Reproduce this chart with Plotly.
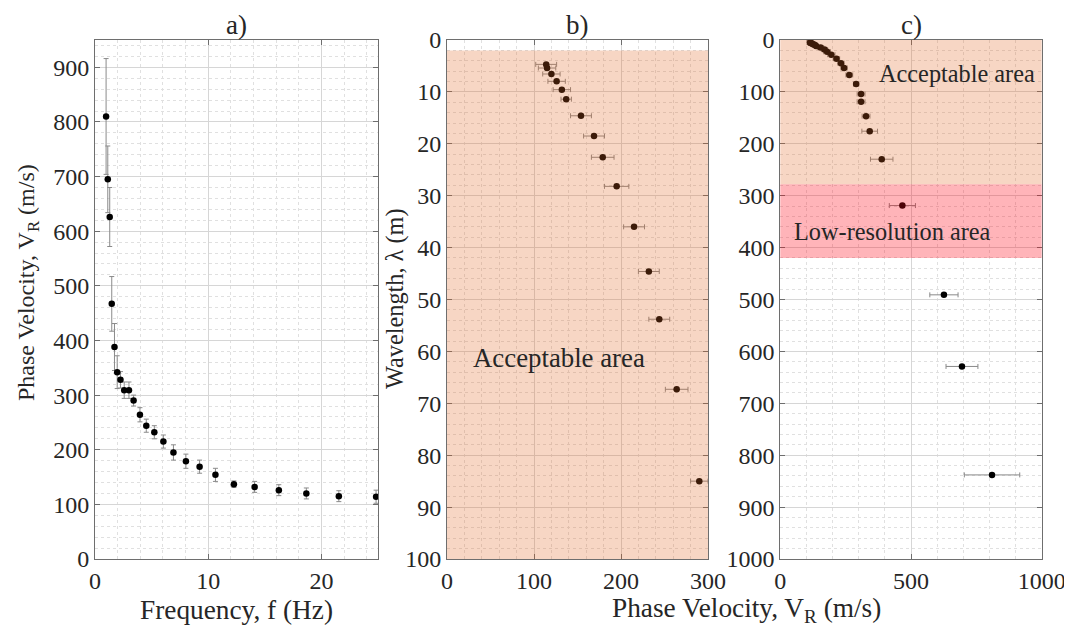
import plotly.graph_objects as go

# ---- data ----
frequency_hz = [0.98, 1.13, 1.30, 1.48, 1.72, 1.96, 2.25, 2.58, 3.00, 3.41, 3.97, 4.53,
                5.24, 6.04, 6.93, 8.03, 9.24, 10.64, 12.27, 14.10, 16.24, 18.67, 21.54, 24.83]
phase_velocity = [810, 695, 626, 467, 388, 342, 328, 309, 309, 290, 264, 244,
                  232, 215, 195, 179, 169, 154, 137, 132, 126, 120, 115, 114]
velocity_error = [106, 61, 54, 50, 43, 30, 15, 15, 15, 10, 13, 12,
                  12, 12, 14, 13, 12, 12, 6, 10, 10, 10, 10, 12]
wavelength_m = [838, 629, 491, 319, 229.7, 175.7, 146.7, 119, 104, 85, 67.3, 53.8,
                44.6, 36, 28.2, 22.6, 18.5, 14.6, 11.4, 9.57, 7.96, 6.55, 5.4, 4.7]

panel_titles = ["a)", "b)", "c)"]
acceptable_b = [2, 100]      # wavelength limits of shaded area, panel b
acceptable_c = [0, 278]      # panel c acceptable area
lowres_c = [278, 420]        # panel c low-resolution area

# page body has an 8px margin: figure is placed at (8, 8) in the window
OFF = 8
W, H = 1072 - OFF, 632 - OFF
def px(x):
    return (x - OFF) / W
def py(y):
    return 1 - (y - OFF) / H

FONT = "Liberation Serif, Times New Roman, serif"
TXT = "#262626"

fig = go.Figure()
marker = dict(color="black", size=6.5)
err = dict(type="data", array=velocity_error, visible=True, color="#8a8a8a",
           thickness=1, width=2.5)

fig.add_trace(go.Scatter(x=frequency_hz, y=phase_velocity, mode="markers",
                         marker=marker, error_y=err, xaxis="x", yaxis="y",
                         showlegend=False))
fig.add_trace(go.Scatter(x=phase_velocity, y=wavelength_m, mode="markers",
                         marker=marker, error_x=err, xaxis="x2", yaxis="y2",
                         showlegend=False))
fig.add_trace(go.Scatter(x=phase_velocity, y=wavelength_m, mode="markers",
                         marker=marker, error_x=err, xaxis="x3", yaxis="y3",
                         showlegend=False))

def ax(domain, rng, dtick, minor, anchor):
    return dict(domain=domain, range=rng, dtick=dtick, anchor=anchor,
                automargin=False,
                showline=True, linecolor="#6e6e6e", linewidth=1, mirror="ticks",
                ticks="inside", ticklen=5, tickcolor="#6e6e6e",
                showgrid=True, gridcolor="#d6d6d6", gridwidth=1, zeroline=False,
                tickfont=dict(family=FONT, size=24, color=TXT),
                minor=dict(dtick=minor, showgrid=True, gridcolor="#e0e0e0",
                           griddash="dot", gridwidth=1))

ydom = [py(559), py(40)]
fig.update_layout(
    width=W, height=H,
    margin=dict(l=0, r=0, t=0, b=0, autoexpand=False),
    paper_bgcolor="white", plot_bgcolor="white",
    xaxis=ax([px(95), px(378)], [0, 25], 10, 2, "y"),
    yaxis=ax(ydom, [0, 950], 100, 20, "x"),
    xaxis2=ax([px(447), px(708)], [0, 300], 100, 20, "y2"),
    yaxis2=ax(ydom, [100, 0], 10, 2, "x2"),
    xaxis3=ax([px(780.3), px(1041.7)], [0, 1000], 500, 100, "y3"),
    yaxis3=ax(ydom, [1000, 0], 100, 20, "x3"),
)

PEACH = "rgba(225,102,34,0.267)"
PINK = "rgba(255,5,22,0.30)"
fig.add_shape(type="rect", xref="x2 domain", yref="y2", x0=0, x1=1,
              y0=acceptable_b[0], y1=acceptable_b[1], fillcolor=PEACH,
              line=dict(width=0), layer="above")
fig.add_shape(type="rect", xref="x3 domain", yref="y3", x0=0, x1=1,
              y0=acceptable_c[0], y1=acceptable_c[1], fillcolor=PEACH,
              line=dict(width=0), layer="above")
fig.add_shape(type="rect", xref="x3 domain", yref="y3", x0=0, x1=1,
              y0=lowres_c[0], y1=lowres_c[1], fillcolor=PINK,
              line=dict(width=0), layer="above")

def note(text, x, y, size, xref="paper", yref="paper", angle=0, xanchor="center",
         yanchor="middle"):
    fig.add_annotation(text=text, x=x, y=y, xref=xref, yref=yref, showarrow=False,
                       textangle=angle, xanchor=xanchor, yanchor=yanchor,
                       font=dict(family=FONT, size=size, color=TXT))

note("Acceptable area", 28, 61.3, 26.8, "x2", "y2", xanchor="left")
note("Acceptable area", 369, 64, 24.3, "x3", "y3", xanchor="left")
note("Low-resolution area", 45, 369, 24.3, "x3", "y3", xanchor="left")

for t, cx in zip(panel_titles, [236.5, 577.5, 911]):
    note(t, px(cx), 1.0, 27, yanchor="top")

note("Frequency, f (Hz)", px(236.5), py(610), 27.3)
note("Phase Velocity, V<sub>R</sub> (m/s)", px(746), py(610), 27.3)
note("Phase Velocity, V<sub>R</sub> (m/s)", px(28), py(283), 24, angle=-90)
note("Wavelength, λ (m)", px(395), py(298), 24.3, angle=-90)

fig.write_html("out.html")
